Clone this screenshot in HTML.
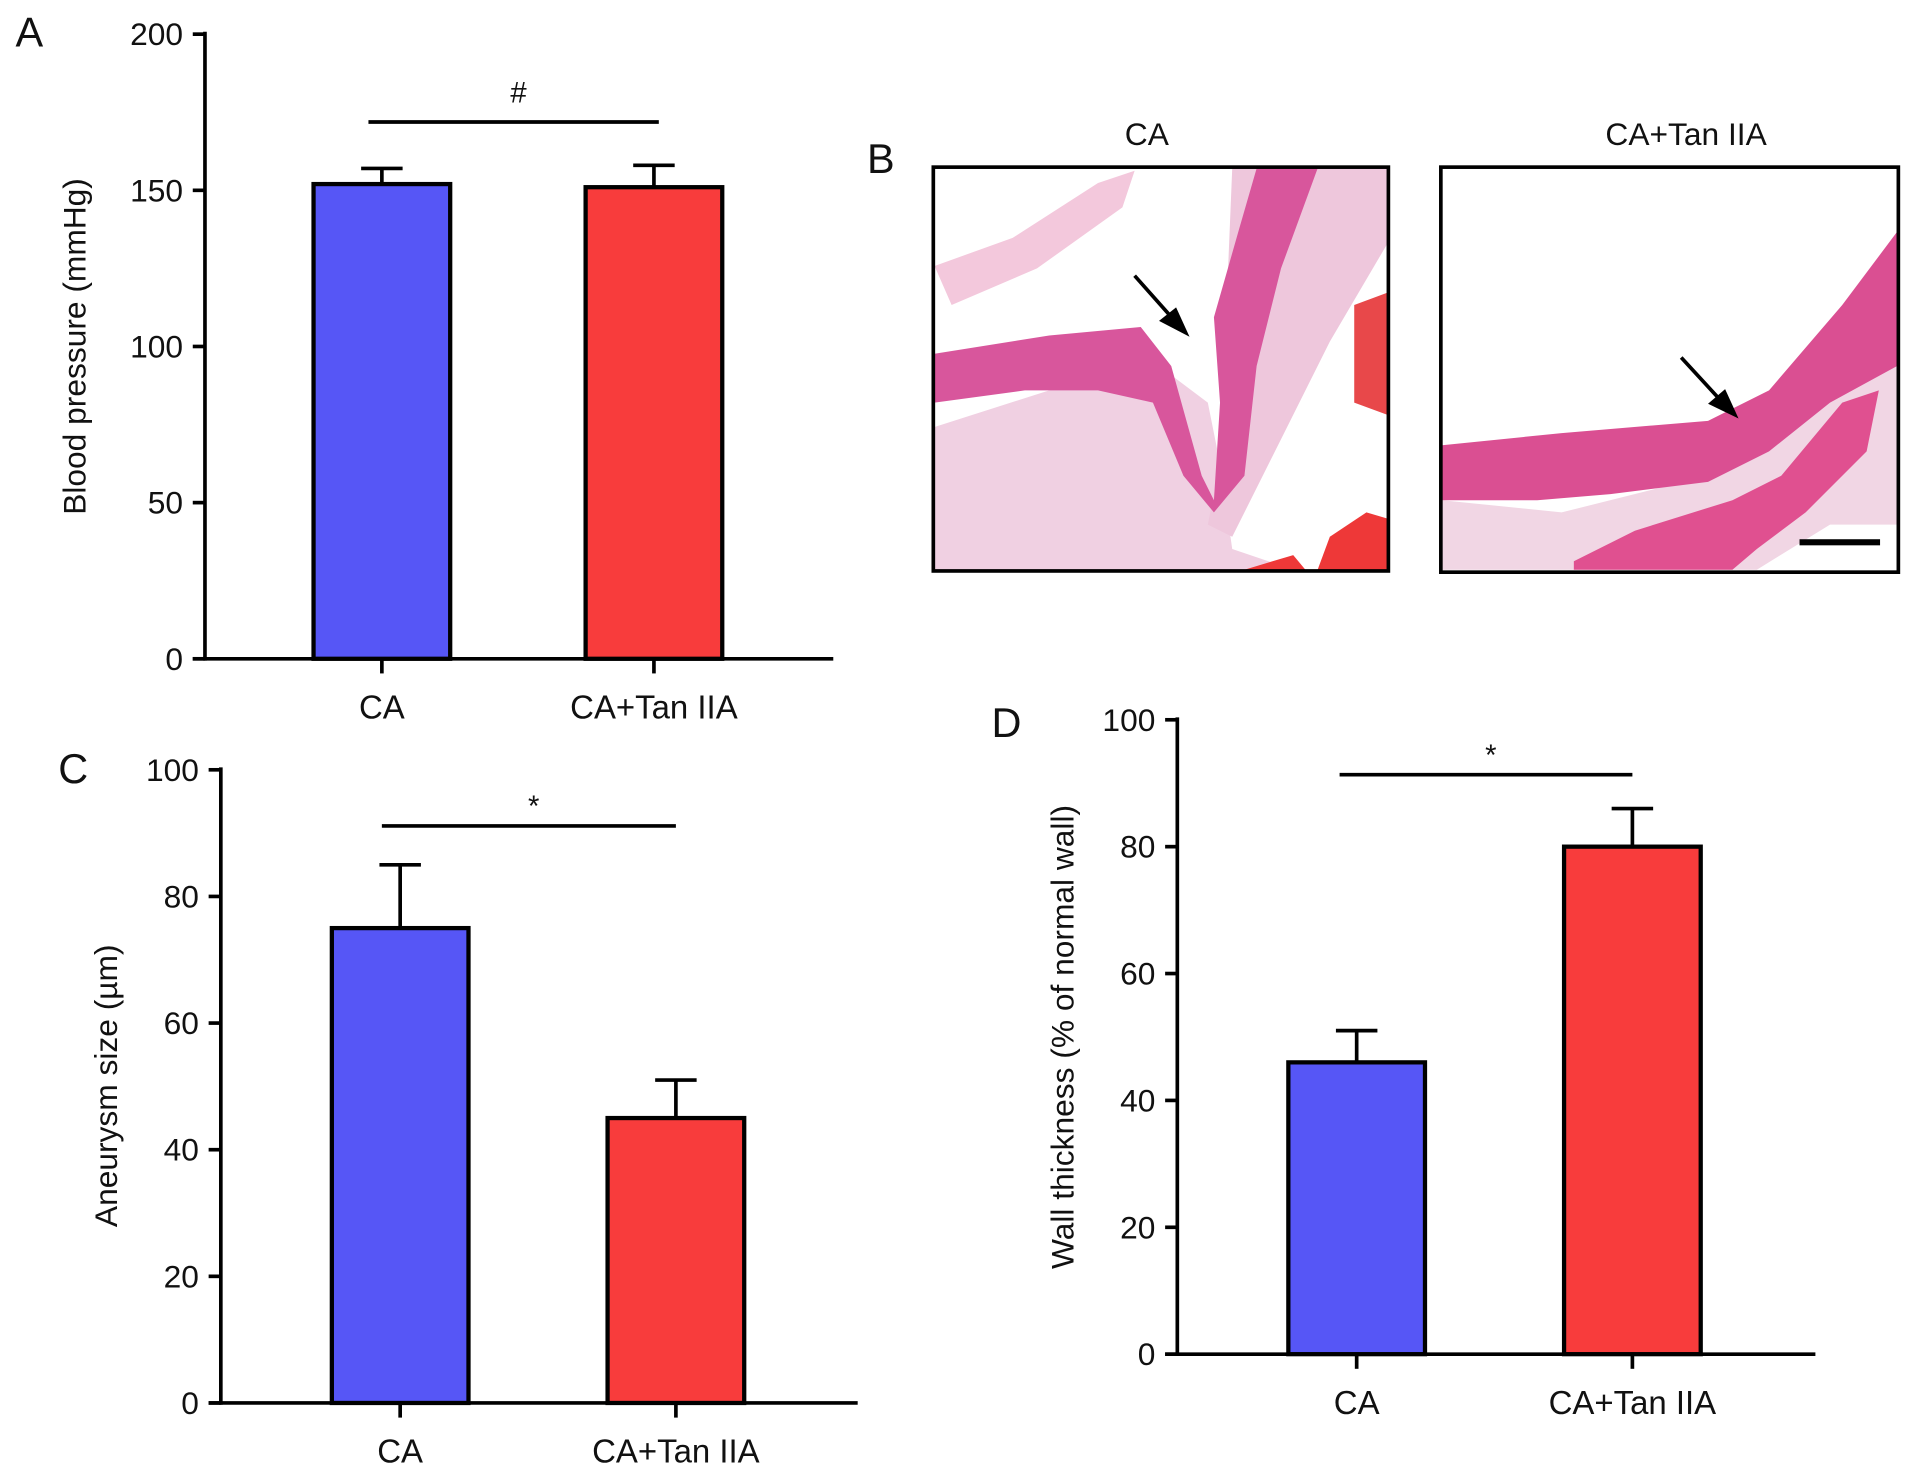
<!DOCTYPE html>
<html><head><meta charset="utf-8"><style>
html,body{margin:0;padding:0;background:#fff}
svg{display:block}
text{font-family:"Liberation Sans",sans-serif;fill:#111}
</style></head><body>
<svg id="fig" width="1913" height="1478" viewBox="0 0 1568 1211.5" preserveAspectRatio="none" xmlns="http://www.w3.org/2000/svg">
<g id="panelB">
  <text x="722" y="142" font-size="34" text-anchor="middle">B</text>
  <text x="940" y="119" font-size="26" text-anchor="middle">CA</text>
  <text x="1382" y="119" font-size="26" text-anchor="middle">CA+Tan IIA</text>
  <defs><clipPath id="c1"><rect x="766" y="138" width="371" height="329"/></clipPath><clipPath id="c2"><rect x="1182" y="138" width="373" height="330"/></clipPath></defs>
  <g clip-path="url(#c1)">
    <path d="M766,350 L860,320 L950,300 L990,330 L1000,380 L1010,450 L1060,467 L766,467Z" fill="#f0d0e2"/>
    <path d="M766,218 L830,195 L900,150 L930,140 L920,170 L850,220 L780,250Z" fill="#f3c8dc"/>
    <path d="M1010,138 L1137,138 L1137,200 L1090,280 L1050,360 L1010,440 L990,430 L1000,380Z" fill="#eec7dc"/>
    <path d="M766,290 L860,275 L935,268 L960,300 L985,390 L995,410 L1000,330 L995,260 L1015,190 L1030,138 L1080,138 L1050,220 L1030,300 L1020,390 L995,420 L970,390 L945,330 L900,320 L840,320 L766,330Z" fill="#d8569c"/>
    <path d="M1110,250 L1137,240 L1137,340 L1110,330Z" fill="#e8484a"/>
    <path d="M1090,440 L1120,420 L1137,425 L1137,467 L1080,467Z" fill="#ee3838"/>
    <path d="M1020,467 L1060,455 L1070,467Z" fill="#ee3838"/>
  </g>
  <rect x="765" y="137" width="373" height="331" fill="none" stroke="#000" stroke-width="3"/>
  <g clip-path="url(#c2)">
    <path d="M1182,410 L1280,420 L1380,395 L1450,360 L1520,310 L1555,300 L1555,430 L1500,430 L1440,467 L1182,467Z" fill="#f1d6e4"/>
    <path d="M1182,365 L1280,355 L1400,345 L1450,320 L1510,250 L1555,190 L1555,300 L1500,330 L1450,370 L1400,395 L1320,405 L1260,410 L1182,410Z" fill="#da4f92"/>
    <path d="M1290,460 L1340,435 L1420,410 L1460,390 L1510,330 L1540,320 L1530,370 L1480,420 L1440,450 L1420,467 L1290,467Z" fill="#e05090"/>
  </g>
  <rect x="1181" y="137" width="375" height="332" fill="none" stroke="#000" stroke-width="3"/>
  <line x1="930" y1="226" x2="962" y2="262" stroke="#000" stroke-width="3"/>
  <polygon points="975,276 950,263 964,252" fill="#000"/>
  <line x1="1378" y1="293" x2="1412" y2="330" stroke="#000" stroke-width="3"/>
  <polygon points="1425,343 1400,331 1414,319" fill="#000"/>
  <rect x="1475" y="442" width="66" height="5" fill="#000"/>
</g>
<g id="charts"></g>
</svg>
<script>
// Panel A
const catsA = ["CA","CA+Tan IIA"];
const valsA = [152,151];
const errsA = [157,158];
const ticksA = [0,50,100,150,200];
// Panel C
const catsC = ["CA","CA+Tan IIA"];
const valsC = [75,45];
const errsC = [85,51];
const ticksC = [0,20,40,60,80,100];
// Panel D
const catsD = ["CA","CA+Tan IIA"];
const valsD = [46,80];
const errsD = [51,86];
const ticksD = [0,20,40,60,80,100];

const NS="http://www.w3.org/2000/svg";
const root=document.getElementById('charts');
function mk(tag,attrs,parent,txt){const e=document.createElementNS(NS,tag);for(const k in attrs)e.setAttribute(k,attrs[k]);if(txt!==undefined)e.textContent=txt;parent.appendChild(e);return e;}
const colors=["#5656f6","#f83c3c"];
function panel(cfg,cats,vals,errs,ticks){
  const g=mk('g',{},root);
  
  
  const ymax=ticks[ticks.length-1];
  const y=v=>cfg.y0-(cfg.y0-cfg.y1)*v/ymax;
  const lab=mk('text',{x:cfg.lx,y:cfg.ly,'font-size':34,'text-anchor':'middle'},g,cfg.letter);
  
  
  ticks.forEach(t=>{
    const l=mk('line',{x1:cfg.ax-10,x2:cfg.ax,y1:y(t),y2:y(t),stroke:'#000','stroke-width':3},g);
    
    
    const tx=mk('text',{x:cfg.ax-18,y:y(t)+9,'font-size':26,'text-anchor':'end'},g,String(t));
    
    
  });
  const ya=mk('line',{x1:cfg.ax,x2:cfg.ax,y1:cfg.y1-2,y2:cfg.y0+1.5,stroke:'#000','stroke-width':3},g);
  
  
  const xa=mk('line',{x1:cfg.ax-10,x2:cfg.xend,y1:cfg.y0,y2:cfg.y0,stroke:'#000','stroke-width':3},g);
  
  
  const yt=mk('text',{x:0,y:0,'font-size':26,'text-anchor':'middle',transform:`translate(${cfg.ytx},${cfg.yty}) rotate(-90)`},g,cfg.ytitle);
  
  
  cats.forEach((c,i)=>{
    const cx=cfg.cx[i];
    const el=mk('line',{x1:cx,x2:cx,y1:y(errs[i]),y2:y(vals[i]),stroke:'#000','stroke-width':3},g);
    
    
    const cap=mk('line',{x1:cx-17,x2:cx+17,y1:y(errs[i]),y2:y(errs[i]),stroke:'#000','stroke-width':3},g);
    
    
    const b=mk('rect',{x:cx-56,y:y(vals[i]),width:112,height:cfg.y0-y(vals[i]),fill:colors[i],stroke:'#000','stroke-width':3.5},g);
    
    
    const tk=mk('line',{x1:cx,x2:cx,y1:cfg.y0,y2:cfg.y0+12,stroke:'#000','stroke-width':3},g);
    
    
    const tl=mk('text',{x:cx,y:cfg.y0+49,'font-size':27,'text-anchor':'middle'},g,c);
    
    
  });
  const sl=mk('line',{x1:cfg.sig[0],x2:cfg.sig[1],y1:cfg.sig[2],y2:cfg.sig[2],stroke:'#000','stroke-width':3},g);
  
  
  const st=mk('text',{x:(cfg.sig[0]+cfg.sig[1])/2+4,y:cfg.sig[2]-cfg.sigdy,'font-size':24,'text-anchor':'middle'},g,cfg.sigtxt);
  
  
}
panel({name:'panel-a-blood-pressure',letter:'A',lx:24,ly:38,ax:168,y0:540,y1:28,xend:683,cx:[313,536],ytx:70,yty:284,ytitle:'Blood pressure (mmHg)',sig:[302,540,100],sigtxt:'#',sigdy:16},catsA,valsA,errsA,ticksA);
panel({name:'panel-c-aneurysm-size',letter:'C',lx:60,ly:642,ax:181,y0:1150,y1:631,xend:703,cx:[328,554],ytx:96,yty:890,ytitle:'Aneurysm size (\u00b5m)',sig:[313,554,677],sigtxt:'*',sigdy:8},catsC,valsC,errsC,ticksC);
panel({name:'panel-d-wall-thickness',letter:'D',lx:825,ly:604,ax:965,y0:1110,y1:590,xend:1488,cx:[1112,1338],ytx:880,yty:850,ytitle:'Wall thickness (% of normal wall)',sig:[1098,1338,635],sigtxt:'*',sigdy:8},catsD,valsD,errsD,ticksD);
</script>
</body></html>
